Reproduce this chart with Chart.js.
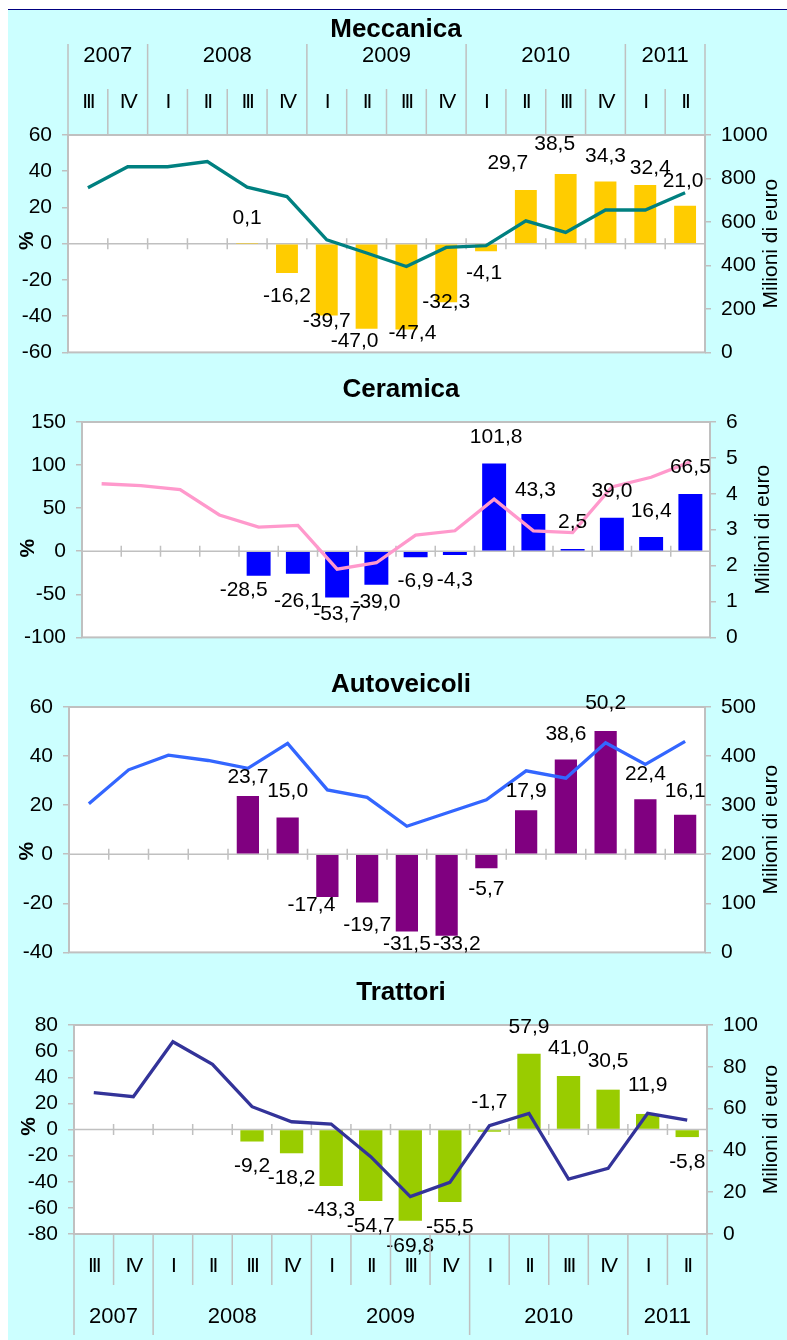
<!DOCTYPE html>
<html>
<head>
<meta charset="utf-8">
<script src="https://cdn.jsdelivr.net/npm/chart.js@4.4.0/dist/chart.umd.min.js"></script>
<style>
  body { margin: 0; background: #fff; width: 787px; height: 1340px; position: relative; overflow: hidden; }
  #topline { position: absolute; left: 8px; top: 9px; width: 779px; height: 1px; background: #000080; }
  canvas { position: absolute; left: 8px; background: #ccffff; }
</style>
</head>
<body>
<div id="topline"></div>
<canvas id="meccanica" width="779" height="365" style="top:10px"></canvas>
<canvas id="ceramica" width="779" height="285" style="top:375px"></canvas>
<canvas id="autoveicoli" width="779" height="315" style="top:660px"></canvas>
<canvas id="trattori" width="779" height="365" style="top:975px"></canvas>
<script>
// Categories
const quarters = ['III', 'IV', 'I', 'II', 'III', 'IV', 'I', 'II', 'III', 'IV', 'I', 'II', 'III', 'IV', 'I', 'II'];
const years = ['2007', '2008', '2009', '2010', '2011'];
const quartersPerYear = [2, 4, 4, 4, 2];

// Meccanica: % change (bars) and millions of euro (line)
const meccanicaPct = [null, null, null, null, 0.1, -16.2, -39.7, -47.0, -47.4, -32.3, -4.1, 29.7, 38.5, 34.3, 32.4, 21.0];
const meccanicaEur = [757, 854, 854, 878, 760, 717, 518, 457, 395, 483, 491, 605, 552, 655, 655, 734];

// Ceramica
const ceramicaPct = [null, null, null, null, -28.5, -26.1, -53.7, -39.0, -6.9, -4.3, 101.8, 43.3, 2.5, 39.0, 16.4, 66.5];
const ceramicaEur = [4.28, 4.23, 4.12, 3.41, 3.07, 3.12, 1.90, 2.08, 2.85, 2.97, 3.85, 2.97, 2.92, 4.19, 4.46, 4.89];

// Autoveicoli
const autoveicoliPct = [null, null, null, null, 23.7, 15.0, -17.4, -19.7, -31.5, -33.2, -5.7, 17.9, 38.6, 50.2, 22.4, 16.1];
const autoveicoliEur = [303, 372, 402, 391, 375, 426, 331, 316, 257, 284, 311, 370, 355, 427, 383, 430];

// Trattori
const trattoriPct = [null, null, null, null, -9.2, -18.2, -43.3, -54.7, -69.8, -55.5, -1.7, 57.9, 41.0, 30.5, 11.9, -5.8];
const trattoriEur = [67.6, 65.7, 92.0, 81.2, 60.9, 53.7, 52.6, 37.0, 17.9, 24.7, 51.8, 57.7, 26.3, 31.4, 57.7, 54.5];

const grey = '#c0c0c0';
const fontFamily = 'Arial, "Liberation Sans", sans-serif';

function fmt(v) {
  return v.toFixed(1).replace('.', ',');
}

// per-panel decoration settings (titles, header rows, label nudges)
const decorSettings = {
  meccanica: {
    title: 'Meccanica', titleX: 388, titleY: 20, rightTitleX: 763, pctX: 19,
    header: { pos: 'top', q: [79, 125], yr: [34, 125], qY: 92, yY: 46 },
    dx: [0, 0, 0, 0, 0, 0, 0, -12, 6, 0, -2, -18, -11, 0, 5, -2],
    dy: [null, null, null, null, -25, 23, 6, 12, 4, 0, 22, -27, -30, -25, -17, -24]
  },
  ceramica: {
    title: 'Ceramica', titleX: 393, titleY: 15, rightTitleX: 755, pctX: 20,
    header: null,
    dx: [0, 0, 0, 0, -15, 0, 0, 0, 0, 0, 2, 2, 0, 0, 0, 0],
    dy: [null, null, null, null, 14, 27, 17, 17, 24, 25, -26, -24, -27, -26, -26, -27]
  },
  autoveicoli: {
    title: 'Autoveicoli', titleX: 393, titleY: 25, rightTitleX: 763, pctX: 19,
    header: null,
    dx: [0, 0, 0, 0, 0, 0, -16, 0, 0, 10, 0, 0, 0, 0, 0, 0],
    dy: [null, null, null, null, -19, -26, 8, 23, 13, 8, 21, -19, -25, -28, -25, -24]
  },
  trattori: {
    title: 'Trattori', titleX: 393, titleY: 18, rightTitleX: 763, pctX: 21,
    header: { pos: 'bottom', q: [259, 310], yr: [259, 360], qY: 291, yY: 342 },
    dx: [0, 0, 0, 0, 0, 0, 0, 0, 0, 0, 0, 0, 0, 0, 0, 0],
    dy: [null, null, null, null, 25, 25, 24, 25, 26, 25, -30, -27, -28, -28, -29, 25]
  }
};

function drawHeader(chart, h) {
  const ctx = chart.ctx;
  const xs = chart.scales.x;
  const bx = b => xs.getPixelForValue(b - 0.5);
  ctx.save();
  ctx.strokeStyle = grey;
  ctx.lineWidth = 1.5;
  ctx.beginPath();
  for (let b = 0; b <= quarters.length; b++) {
    ctx.moveTo(bx(b), h.q[0]);
    ctx.lineTo(bx(b), h.q[1]);
  }
  let b = 0;
  ctx.moveTo(bx(0), h.yr[0]);
  ctx.lineTo(bx(0), h.yr[1]);
  quartersPerYear.forEach(n => {
    b += n;
    ctx.moveTo(bx(b), h.yr[0]);
    ctx.lineTo(bx(b), h.yr[1]);
  });
  ctx.stroke();

  ctx.fillStyle = '#000';
  ctx.textAlign = 'center';
  ctx.textBaseline = 'middle';
  ctx.font = '21px ' + fontFamily;
  if ('letterSpacing' in ctx) ctx.letterSpacing = '-2px';
  quarters.forEach((q, i) => ctx.fillText(q, xs.getPixelForValue(i), h.qY));
  if ('letterSpacing' in ctx) ctx.letterSpacing = '0px';

  ctx.font = '22px ' + fontFamily;
  b = 0;
  years.forEach((yr, k) => {
    const n = quartersPerYear[k];
    ctx.fillText(yr, (bx(b) + bx(b + n)) / 2, h.yY);
    b += n;
  });
  ctx.restore();
}

const decor = {
  id: 'decor',
  beforeDraw(chart) {
    const {ctx, chartArea: a} = chart;
    ctx.save();
    ctx.fillStyle = '#fff';
    ctx.fillRect(a.left, a.top, a.width, a.height);
    ctx.restore();
  },
  beforeDatasetsDraw(chart) {
    // zero line with cross tick marks between quarters
    const {ctx, chartArea: a, scales} = chart;
    const y0 = scales.y.getPixelForValue(0);
    ctx.save();
    ctx.strokeStyle = grey;
    ctx.lineWidth = 1.5;
    ctx.beginPath();
    ctx.moveTo(a.left, y0);
    ctx.lineTo(a.right, y0);
    for (let i = 1; i < quarters.length; i++) {
      const x = scales.x.getPixelForValue(i - 0.5);
      ctx.moveTo(x, y0 - 5.5);
      ctx.lineTo(x, y0 + 5.5);
    }
    ctx.stroke();
    ctx.restore();
  },
  afterDatasetsDraw(chart) {
    const s = decorSettings[chart.canvas.id];
    const {ctx, chartArea: a} = chart;
    ctx.save();
    ctx.strokeStyle = grey;
    ctx.lineWidth = 2;
    ctx.strokeRect(a.left, a.top, a.width, a.height);

    // bar value labels
    const meta = chart.getDatasetMeta(1);
    const values = chart.data.datasets[1].data;
    ctx.fillStyle = '#000';
    ctx.font = '21px ' + fontFamily;
    ctx.textAlign = 'center';
    ctx.textBaseline = 'middle';
    meta.data.forEach((bar, i) => {
      const v = values[i];
      if (v === null) return;
      const dy = s.dy[i] !== null ? s.dy[i] : (v >= 0 ? -25 : 25);
      ctx.fillText(fmt(v), bar.x + s.dx[i], bar.y + dy);
    });
    ctx.restore();
  },
  afterDraw(chart) {
    const s = decorSettings[chart.canvas.id];
    const {ctx, chartArea: a} = chart;
    ctx.save();
    ctx.fillStyle = '#000';
    ctx.textAlign = 'center';
    ctx.textBaseline = 'middle';
    ctx.font = 'bold 26px ' + fontFamily;
    ctx.fillText(s.title, s.titleX, s.titleY);

    // axis titles
    const y0 = chart.scales.y.getPixelForValue(0);
    ctx.save();
    ctx.translate(s.pctX, y0 - 3);
    ctx.rotate(-Math.PI / 2);
    ctx.font = 'bold 21px ' + fontFamily;
    ctx.fillText('%', 0, 0);
    ctx.restore();

    ctx.save();
    ctx.translate(s.rightTitleX, (a.top + a.bottom) / 2);
    ctx.rotate(-Math.PI / 2);
    ctx.font = '21px ' + fontFamily;
    ctx.fillText('Milioni di euro', 0, 0);
    ctx.restore();
    ctx.restore();

    if (s.header) drawHeader(chart, s.header);
  }
};

function makePanel(id, cfg) {
  const tickFont = { family: fontFamily, size: 21 };
  const plain = v => String(v);
  return new Chart(document.getElementById(id), {
    type: 'bar',
    data: {
      labels: quarters,
      datasets: [
        {
          type: 'line',
          data: cfg.eur,
          yAxisID: 'y2',
          borderColor: cfg.lineColor,
          borderWidth: 3.3,
          pointRadius: 0,
          tension: 0,
          order: 1
        },
        {
          type: 'bar',
          data: cfg.pct,
          yAxisID: 'y',
          backgroundColor: cfg.barColor,
          barPercentage: cfg.barPct,
          categoryPercentage: 1,
          order: 2
        }
      ]
    },
    options: {
      responsive: false,
      animation: false,
      layout: { padding: { top: cfg.padTop, bottom: cfg.padBottom, left: 0, right: 0 } },
      plugins: {
        legend: { display: false },
        tooltip: { enabled: false }
      },
      scales: {
        x: { display: false, offset: true },
        y: {
          position: 'left',
          min: cfg.yMin, max: cfg.yMax,
          ticks: { stepSize: cfg.yStep, padding: 10, color: '#000', font: tickFont, autoSkip: false, callback: plain },
          grid: { drawOnChartArea: false, tickLength: 6, color: grey, lineWidth: 1.5 },
          border: { display: false },
          afterFit: s => { s.width = cfg.leftW; }
        },
        y2: {
          position: 'right',
          min: cfg.y2Min, max: cfg.y2Max,
          ticks: { stepSize: cfg.y2Step, padding: 10, color: '#000', font: tickFont, autoSkip: false, callback: plain },
          grid: { drawOnChartArea: false, tickLength: 6, color: grey, lineWidth: 1.5 },
          border: { display: false },
          afterFit: s => { s.width = cfg.rightW; }
        }
      }
    },
    plugins: [decor]
  });
}

makePanel('meccanica', {
  pct: meccanicaPct, eur: meccanicaEur,
  barColor: '#ffcc00', lineColor: '#008080', barPct: 0.55,
  padTop: 125, padBottom: 21, leftW: 60, rightW: 82,
  yMin: -60, yMax: 60, yStep: 20, y2Min: 0, y2Max: 1000, y2Step: 200
});

makePanel('ceramica', {
  pct: ceramicaPct, eur: ceramicaEur,
  barColor: '#0000ff', lineColor: '#ff99cc', barPct: 0.61,
  padTop: 47, padBottom: 13, leftW: 74, rightW: 77,
  yMin: -100, yMax: 150, yStep: 50, y2Min: 0, y2Max: 6, y2Step: 1
});

makePanel('autoveicoli', {
  pct: autoveicoliPct, eur: autoveicoliEur,
  barColor: '#800080', lineColor: '#3366ff', barPct: 0.56,
  padTop: 47, padBottom: 22, leftW: 61, rightW: 82,
  yMin: -40, yMax: 60, yStep: 20, y2Min: 0, y2Max: 500, y2Step: 100
});

makePanel('trattori', {
  pct: trattoriPct, eur: trattoriEur,
  barColor: '#99cc00', lineColor: '#333399', barPct: 0.59,
  padTop: 50, padBottom: 106, leftW: 66, rightW: 80,
  yMin: -80, yMax: 80, yStep: 20, y2Min: 0, y2Max: 100, y2Step: 20
});
</script>
</body>
</html>
